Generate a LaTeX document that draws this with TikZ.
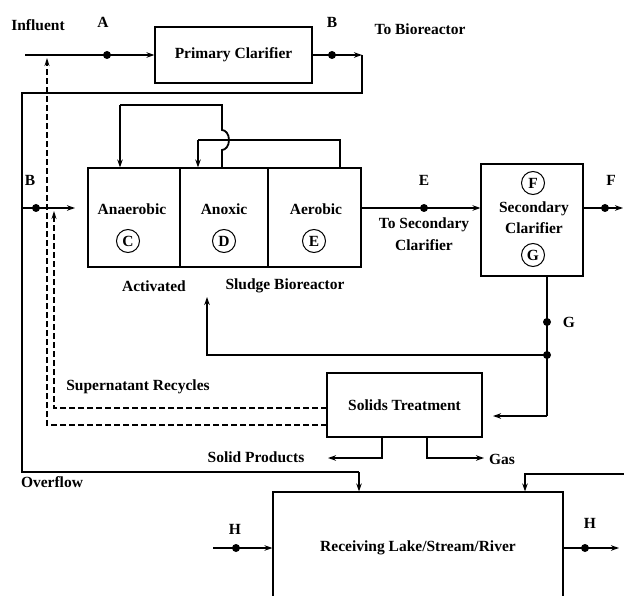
\documentclass[tikz,border=0pt]{standalone}
\usepackage{fontspec}
\setmainfont{Liberation Serif}
\usetikzlibrary{arrows.meta}
\begin{document}
\begin{tikzpicture}[x=1pt,y=-1pt,
  font=\fontsize{15.5}{17}\selectfont\bfseries,
  box/.style={draw,line width=1.1pt,inner sep=0pt},
  flow/.style={line width=1.8pt},
  arr/.style={flow,-{Stealth[length=8pt,width=5.5pt]}},
  rec/.style={line width=1.1pt,dash pattern=on 6pt off 3pt},
  recarr/.style={rec,-{Stealth[length=8pt,width=5pt]}},
  lab/.style={inner sep=0pt},
  circ/.style={circle,draw,line width=1pt,inner sep=0pt,minimum size=23pt},
  dot/.style={circle,fill,inner sep=0pt,minimum size=8pt}]
\clip (0,0) rectangle (624,596);
\fill[white] (0,0) rectangle (624,596);

% boxes
\node[box,minimum width=157pt,minimum height=56pt] (pc) at (233.5,55) {Primary Clarifier};
\node[box,minimum width=92pt,minimum height=99pt] (anaer) at (134,217.5) {};
\node[box,minimum width=88pt,minimum height=99pt] (anox) at (224,217.5) {};
\node[box,minimum width=93pt,minimum height=99pt] (aer) at (314.5,217.5) {};
\node[box,minimum width=102pt,minimum height=112pt] (sc) at (532,220) {};
\node[box,minimum width=155pt,minimum height=64pt] (st) at (404.5,405) {Solids Treatment};
\node[box,minimum width=290pt,minimum height=140pt] (rv) at (418,562) {};

% texts inside
\node[lab] (t1) at (132,209) {Anaerobic};
\node[circ] (cC) at (128,241) {C};
\node[lab] (t2) at (224,209) {Anoxic};
\node[circ] (cD) at (224,241) {D};
\node[lab] (t3) at (316,209) {Aerobic};
\node[circ] (cE) at (314,241) {E};
\node[circ] (cF) at (533,183) {F};
\node[lab] (t4a) at (534,209) {Secondary};
\node[lab] (t4b) at (534,228) {Clarifier};
\node[circ] (cG) at (533,255) {G};
\node[lab] (t5) at (418,548) {Receiving Lake/Stream/River};

% other labels
\node[lab] (lInf) at (38,25) {Influent};
\node[lab] (lA) at (103,22) {A};
\node[lab] (lB1) at (332,22) {B};
\node[lab] (lTB) at (420,29) {To Bioreactor};
\node[lab] (lB2) at (30,180) {B};
\node[lab] (lE) at (424,180) {E};
\node[lab] (lTSa) at (424,225) {To Secondary};
\node[lab] (lTSb) at (424,245) {Clarifier};
\node[lab] (lF) at (611,180) {F};
\node[lab] (lG) at (569,322) {G};
\node[lab] (lAct) at (154,286) {Activated};
\node[lab] (lSB) at (285,286) {Sludge Bioreactor};
\node[lab] (lSR) at (138,387) {Supernatant Recycles};
\node[lab] (lSP) at (256,457) {Solid Products};
\node[lab] (lGas) at (502,459) {Gas};
\node[lab] (lOv) at (52,482) {Overflow};
\node[lab] (lH1) at (235,529) {H};
\node[lab] (lH2) at (590,523) {H};

% coordinates
\coordinate (inf) at (25,55);
\coordinate (c1) at (362,55);
\coordinate (c2) at (22,93);
\coordinate (ov) at (359,472);
\coordinate (bj) at (22,208);
\coordinate (bend) at (75,208);
\coordinate (r1a) at (222,168);
\coordinate (r1b) at (120,105);
\coordinate (r2a) at (340,168);
\coordinate (r2b) at (198,140);
\coordinate (es) at (361,208);
\coordinate (fs) at (583,208);
\coordinate (fe) at (623,208);
\coordinate (gs) at (547,276);
\coordinate (gc) at (547,416);
\coordinate (ge) at (493,416);
\coordinate (gj) at (547,355);
\coordinate (ret) at (207,297);
\coordinate (d1) at (327,425);
\coordinate (d1e) at (47,58);
\coordinate (d2) at (327,408);
\coordinate (d2e) at (54,211);
\coordinate (sp1) at (382,437);
\coordinate (sp2) at (328,458);
\coordinate (gs1) at (427,437);
\coordinate (gs2) at (484,458);
\coordinate (rt) at (624,474);
\coordinate (rt2) at (525,474);
\coordinate (h1) at (213,548);
\coordinate (h2) at (619,548);

% flows
\draw[arr] (inf) -- (pc.west);
\node[dot] (dA) at (107,55) {};
\draw[arr] (pc.east) -- (c1);
\node[dot] (dB) at (332,55) {};
\draw[flow] (c1) |- (c2) |- (ov);
\draw[arr] (ov) -- (ov |- rv.north);
\draw[arr] (bj) -- (bend);
\node[dot] (dB2) at (36,208) {};

% internal recycles
\draw[flow] (r1a) -- (222,150) arc[start angle=90,end angle=-90,x radius=7,y radius=10] -- (222,105) -| (r1b);
\draw[arr] (r1b) -- (r1b |- anaer.north);
\draw[flow] (r2a) |- (r2b);
\draw[arr] (r2b) -- (r2b |- anox.north);

% to secondary clarifier
\draw[arr] (es) -- (es -| sc.west);
\node[dot] (dE) at (424,208) {};
\draw[arr] (fs) -- (fe);
\node[dot] (dF) at (605,208) {};

% G line
\draw[flow] (gs) -- (gc);
\draw[arr] (gc) -- (ge);
\node[dot] (dG) at (547,322) {};
\node[dot] (dJ) at (gj) {};
\draw[arr] (gj) -| (ret);

% supernatant recycles
\draw[recarr] (d1) -| (d1e);
\draw[recarr] (d2) -| (d2e);

% solids products / gas
\draw[arr] (sp1) |- (sp2);
\draw[arr] (gs1) |- (gs2);

% right inflow
\draw[arr] (rt) -| (rt2 |- rv.north);

% H lines
\draw[arr] (h1) -- (h1 -| rv.west);
\node[dot] (dH1) at (236,548) {};
\draw[arr] (rv.east |- h2) -- (h2);
\node[dot] (dH2) at (585,548) {};
\end{tikzpicture}
\end{document}
